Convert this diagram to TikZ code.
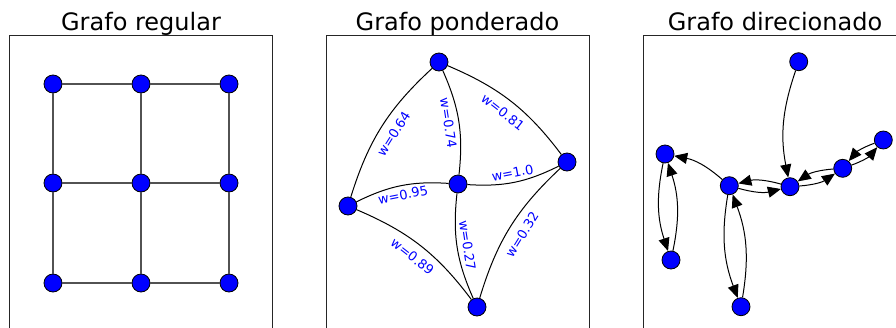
\documentclass[tikz,border=0pt]{standalone}
\usepackage{fontspec}
\setmainfont{DejaVu Sans}
\usetikzlibrary{arrows.meta}

\begin{document}
\begin{tikzpicture}[
  x=1pt, y=-1pt,
  vertex/.style={circle,fill=blue,draw=black,line width=.8pt,minimum size=18pt,inner sep=0pt},
  frame/.style={draw=black!85,line width=.8pt},
  title/.style={anchor=base,font=\fontsize{24}{28}\selectfont},
  grid/.style={draw=black!68,line width=1.5pt},
  edge/.style={draw=black,line width=1pt},
  wlabel/.style={sloped,text=blue,inner sep=1pt,font=\fontsize{13}{15}\selectfont},
  darc/.style={draw=black,line width=1pt,-{Triangle[length=13pt,width=11pt]}}
]
\useasboundingbox (0,0) rectangle (896,327);
\clip (0,0) rectangle (896,327);
% Panel frames and titles.
\draw[frame] (9,345) -- (9,35.5) -- (272.5,35.5) -- (272.5,345);
\draw[frame] (326,345) -- (326,35.5) -- (589.5,35.5) -- (589.5,345);
\draw[frame] (643,345) -- (643,35.5) -- (910,35.5);
\node[title] (t1) at (141,30.5) {Grafo regular};
\node[title] (t2) at (457.5,30.5) {Grafo ponderado};
\node[title] (t3) at (775,30.5) {Grafo direcionado};
% Regular grid.
\node[vertex] (g11) at (53,84) {};
\node[vertex] (g12) at (141,84) {};
\node[vertex] (g13) at (229,84) {};
\node[vertex] (g21) at (53,183) {};
\node[vertex] (g22) at (141,183) {};
\node[vertex] (g23) at (229,183) {};
\node[vertex] (g31) at (53,283) {};
\node[vertex] (g32) at (141,283) {};
\node[vertex] (g33) at (229,283) {};
\draw[grid] (g11) -- (g12) -- (g13);
\draw[grid] (g21) -- (g22) -- (g23);
\draw[grid] (g31) -- (g32) -- (g33);
\draw[grid] (g11) -- (g21) -- (g31);
\draw[grid] (g12) -- (g22) -- (g32);
\draw[grid] (g13) -- (g23) -- (g33);
% Weighted graph.
\node[vertex] (wtop) at (439,62) {};
\node[vertex] (wright) at (567,162) {};
\node[vertex] (wmid) at (458,184) {};
\node[vertex] (wleft) at (348,206) {};
\node[vertex] (wbot) at (477,307) {};
\draw[edge] (wtop) to[bend right=15] (wleft);
\draw[edge] (wtop) to[bend left=15] (wmid);
\draw[edge] (wtop) to[bend left=15] (wright);
\draw[edge] (wmid) to[bend right=15] (wright);
\draw[edge] (wleft) to[bend left=15] (wmid);
\draw[edge] (wleft) to[bend left=15] (wbot);
\draw[edge] (wmid) to[bend right=15] (wbot);
\draw[edge] (wright) to[bend right=15] (wbot);
\path (wleft) -- node[wlabel] {w=0.64} (wtop);
\path (wtop) -- node[wlabel] {w=0.74} (wmid);
\path (wtop) -- node[wlabel] {w=0.81} (wright);
\path (wmid) -- node[wlabel] {w=1.0} (wright);
\path (wleft) -- node[wlabel] {w=0.95} (wmid);
\path (wleft) -- node[wlabel] {w=0.89} (wbot);
\path (wmid) -- node[wlabel] {w=0.27} (wbot);
\path (wbot) -- node[wlabel] {w=0.32} (wright);
% Directed graph.
\node[vertex] (d1) at (798.7,61.7) {};
\node[vertex] (d2) at (883.3,140) {};
\node[vertex] (d3) at (842.7,168.3) {};
\node[vertex] (d4) at (790,186.7) {};
\node[vertex] (d5) at (729.3,185.7) {};
\node[vertex] (d6) at (665,154) {};
\node[vertex] (d7) at (671,260) {};
\node[vertex] (d8) at (741,306.7) {};
\draw[darc] (d1) to[bend right=15] (d4);
\draw[darc] (d2) to[bend right=15] (d3);
\draw[darc] (d3) to[bend right=15] (d2);
\draw[darc] (d3) to[bend right=15] (d4);
\draw[darc] (d4) to[bend right=15] (d3);
\draw[darc] (d4) to[bend right=15] (d5);
\draw[darc] (d5) to[bend right=15] (d4);
\draw[darc] (d5) to[bend right=15] (d6);
\draw[darc] (d6) to[bend right=15] (d7);
\draw[darc] (d7) to[bend right=15] (d6);
\draw[darc] (d5) to[bend right=15] (d8);
\draw[darc] (d8) to[bend right=15] (d5);
\end{tikzpicture}
\end{document}
